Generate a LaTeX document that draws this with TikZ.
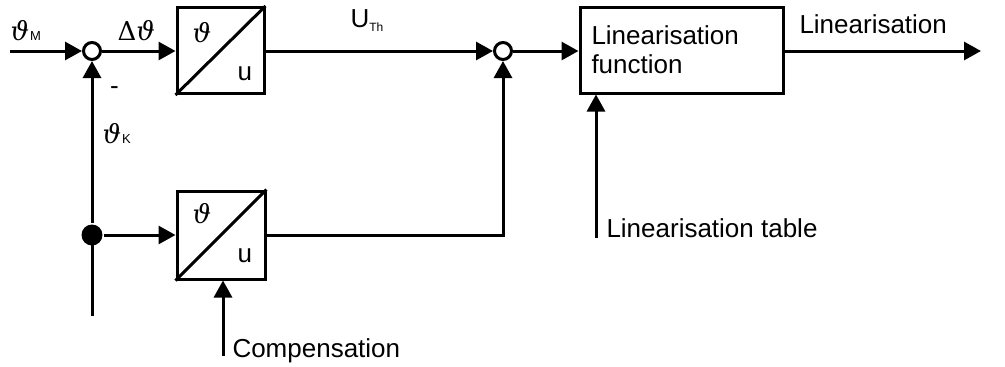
\documentclass[tikz,border=0pt]{standalone}
\usepackage{fontspec}
\setmainfont{Liberation Sans}
\newfontfamily\grk{DejaVu Serif}
\usetikzlibrary{arrows.meta}
\begin{document}
\begin{tikzpicture}[x=1pt,y=-1pt,line width=3pt,
  arr/.style={-{Triangle[length=17pt,width=18pt]}},
  blk/.style={draw,rectangle,inner sep=0pt,line width=3pt},
  sumc/.style={draw,circle,minimum size=17pt,inner sep=0pt,line width=3pt,fill=white},
  jdot/.style={fill,circle,minimum size=21pt,inner sep=0pt},
  lbl/.style={inner sep=0pt,anchor=base west,font=\fontsize{26}{29}\selectfont},
  mth/.style={inner sep=0pt,anchor=base west,font=\fontsize{26}{28}\grk\itshape},
  sub/.style={font=\fontsize{13}{14}\selectfont}]
\useasboundingbox (0,0) rectangle (1005,367);
% blocks
\node[blk,minimum width=87pt,minimum height=86pt] (b1) at (220.5,50.5) {};
\node[blk,minimum width=88pt,minimum height=88pt] (b2) at (221,235) {};
\node[blk,minimum width=203pt,minimum height=86pt,text width=180pt,align=left,
      font=\fontsize{26}{29}\selectfont] (b3) at (681.5,50) {Linearisation\\function};
\draw (b1.south west) -- (b1.north east);
\draw (b2.south west) -- (b2.north east);
% summing points and junction
\node[sumc] (s1) at (92,51) {};
\node[sumc] (s2) at (503,51) {};
\node[jdot] (j) at (92,235) {};
% free ends
\coordinate (in) at (10,51);
\coordinate (bot) at (92,316);
\coordinate (comp) at (223,356);
\coordinate (tab) at (596,238);
\coordinate (out) at (981,51);
\coordinate (corner) at (503,235);
% connectors
\draw[arr] (in) -- (s1);
\draw[arr] (s1) -- (b1.west |- s1);
\draw[arr] (b1.east |- s1) -- (s2);
\draw[arr] (s2) -- (b3.west |- s2);
\draw[arr] (b3.east |- s2) -- (out);
\draw (bot) -- (j.center);
\draw[arr] (j) -- (s1);
\draw[arr] (j) -- (b2.west |- j);
\draw[arr] (b2.east |- j) -- (corner) -- (s2);
\draw[arr] (comp) -- (comp |- b2.south);
\draw[arr] (tab) -- (tab |- b3.south);
% labels
\node[mth] (lthM) at (9,40.5) {ϑ\kern1pt{\upshape\rmfamily\fontsize{13}{14}\selectfont M}};
\node[mth] (ldth) at (116,40.5) {{\upshape Δ}ϑ};
\node[lbl] (lminus) at (108.5,94) {-};
\node[mth] (lthK) at (101,143) {ϑ\kern1pt{\upshape\rmfamily\fontsize{13}{14}\selectfont K}};
\node[lbl] (lUTh) at (349,27) {U\raisebox{-4pt}{\fontsize{12}{13}\selectfont Th}};
\node[mth] (lt1) at (191,42) {ϑ};
\node[lbl] (lu1) at (236,80) {u};
\node[mth] (lt2) at (191,223) {ϑ};
\node[lbl] (lu2) at (236,262) {u};
\node[lbl] (lout) at (798,33) {Linearisation};
\node[lbl] (ltab) at (605,237) {Linearisation table};
\node[lbl] (lcomp) at (231,357) {Compensation};
\end{tikzpicture}
\end{document}
